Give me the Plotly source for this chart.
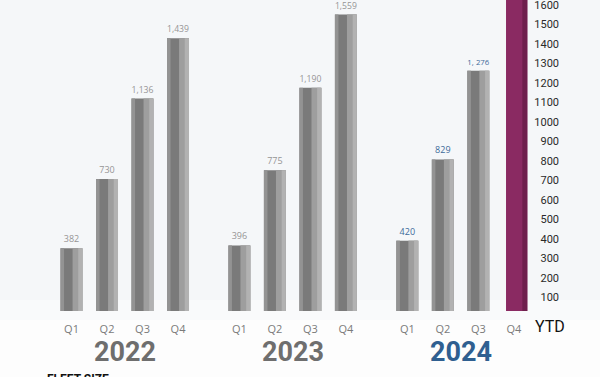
import plotly.graph_objects as go

# ---- data ----
years = ["2022", "2023", "2024"]
quarters = ["Q1", "Q2", "Q3", "Q4"]
fleet_2022 = [382, 730, 1136, 1439]
fleet_2023 = [396, 775, 1190, 1559]
fleet_2024 = [420, 829, 1276]
labels_2022 = ["382", "730", "1,136", "1,439"]
labels_2023 = ["396", "775", "1,190", "1,559"]
labels_2024 = ["420", "829", "1, 276"]
axis_bar_value = 1720  # decorative YTD axis bar (runs off the top)
y_ticks = list(range(100, 1700, 100))

# ---- layout helpers ----
GROUP_STEP = 4.73
def xpos(g, q):
    return GROUP_STEP * g + q

W, H = 600, 377
PLOT_BOTTOM = 311
X0_PX, UNIT_PX = 71.5, 35.5
x_range = [(0 - X0_PX) / UNIT_PX, (W - X0_PX) / UNIT_PX]
# bar scale
ZERO1, S1 = 324.0, 0.1985
y_range = [(ZERO1 - PLOT_BOTTOM) / S1, ZERO1 / S1]
# tick scale
ZERO2, S2 = 316.8, 0.19487
y2_range = [(ZERO2 - PLOT_BOTTOM) / S2, ZERO2 / S2]

def py(px):
    return (PLOT_BOTTOM - px) / PLOT_BOTTOM

series = [(fleet_2022, labels_2022, "#959595"),
          (fleet_2023, labels_2023, "#959595"),
          (fleet_2024, labels_2024, "#3d6b99")]

fig = go.Figure()
BW = 0.62
for g, (vals, labs, lcol) in enumerate(series):
    xs = [xpos(g, q) for q in range(len(vals))]
    fig.add_trace(go.Bar(x=xs, y=vals, width=BW, marker=dict(color="#7a7a7a", line=dict(width=0)),
                         text=labs, textposition="outside", cliponaxis=False,
                         textfont=dict(size=9, color=lcol, family="Open Sans"),
                         hoverinfo="skip", showlegend=False))
    fig.add_trace(go.Bar(x=xs, y=vals, width=0.1, offset=-BW / 2,
                         marker=dict(color="#939393", line=dict(width=0)),
                         hoverinfo="skip", showlegend=False))
    fig.add_trace(go.Bar(x=xs, y=vals, width=0.26, offset=0.03,
                         marker=dict(color="#9e9e9e", line=dict(width=0)),
                         hoverinfo="skip", showlegend=False))
    fig.add_trace(go.Bar(x=xs, y=vals, width=0.12, offset=BW / 2 - 0.12,
                         marker=dict(color="#b2b2b2", line=dict(width=0)),
                         hoverinfo="skip", showlegend=False))

# maroon YTD axis bar
xa = xpos(2, 3) + 0.08
fig.add_trace(go.Bar(x=[xa], y=[axis_bar_value], width=0.6,
                     marker=dict(color="#8a2a62", line=dict(width=0)),
                     hoverinfo="skip", showlegend=False))
fig.add_trace(go.Bar(x=[xa], y=[axis_bar_value], width=0.14, offset=0.16,
                     marker=dict(color="#6f1f4d", line=dict(width=0)),
                     hoverinfo="skip", showlegend=False))

# invisible trace carrying the right-hand tick scale
fig.add_trace(go.Scatter(x=[None], y=[None], yaxis="y2", showlegend=False, hoverinfo="skip"))

tickvals = [xpos(g, q) for g in range(3) for q in range(4)]
ticktext = quarters * 3

fig.update_layout(
    width=W, height=H,
    margin=dict(l=0, r=0, t=0, b=H - PLOT_BOTTOM, autoexpand=False),
    barmode="overlay",
    paper_bgcolor="#f5f7f9",
    plot_bgcolor="rgba(0,0,0,0)",
    xaxis=dict(range=x_range, tickvals=tickvals, ticktext=ticktext, automargin=False,
               showgrid=False, zeroline=False, showline=False,
               ticks="outside", ticklen=8, tickcolor="rgba(0,0,0,0)",
               tickfont=dict(size=11, color="#7a7a7a", family="Open Sans")),
    yaxis=dict(range=y_range, visible=False, automargin=False),
    yaxis2=dict(range=y2_range, overlaying="y", anchor="free", side="left", automargin=False,
                position=559 / W, tickvals=y_ticks, ticks="", showgrid=False,
                zeroline=False, showline=False, ticklabeloverflow="allow",
                tickfont=dict(size=11, color="#2a2a2a", family="Roboto")),
    shapes=[
        dict(type="rect", xref="paper", yref="paper", x0=-0.01, x1=1.01,
             y0=py(H + 5), y1=py(320), fillcolor="#fdfdfd", line=dict(width=0), layer="below"),
        dict(type="rect", xref="paper", yref="paper", x0=-0.01, x1=1.01,
             y0=py(320), y1=py(300), fillcolor="#f9fafb", line=dict(width=0), layer="below"),
    ],
)

year_colors = ["#6e6e6e", "#6e6e6e", "#2f5f90"]
for g, yr in enumerate(years):
    fig.add_annotation(x=xpos(g, 1.5), y=py(352), xref="x", yref="paper",
                       xanchor="center", yanchor="middle",
                       text="<b>" + yr + "</b>", showarrow=False,
                       font=dict(size=27, color=year_colors[g], family="Roboto"))

fig.add_annotation(x=550 / W, y=py(326), xref="paper", yref="paper", text="YTD",
                   xanchor="center", yanchor="middle",
                   showarrow=False, font=dict(size=16, color="#111111", family="Roboto"))
fig.add_annotation(x=45 / W, y=py(370), xref="paper", yref="paper", xanchor="left", yanchor="top",
                   text="<b>FLEET SIZE</b>", showarrow=False,
                   font=dict(size=12, color="#111111", family="Roboto"))

fig.write_html("out.html")
